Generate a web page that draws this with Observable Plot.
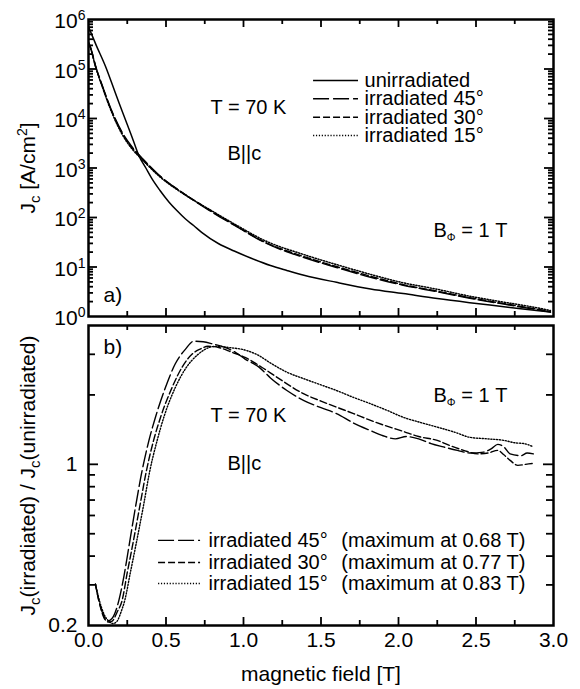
<!DOCTYPE html>
<html><head><meta charset="utf-8">
<script src="https://cdn.jsdelivr.net/npm/d3@7"></script>
<script src="https://cdn.jsdelivr.net/npm/@observablehq/plot@0.6"></script>
<style>
html,body{margin:0;padding:0;background:#fff;}
#chart{position:relative;width:580px;height:689px;background:#fff;}
#chart svg{position:absolute;left:0;overflow:visible;}
</style></head><body><div id="chart"></div>
<script>
// ---------- DATA ----------
// Panel a) : Jc [A/cm^2] vs magnetic field [T]
const fieldUnirr = [0, 0.05, 0.11, 0.15, 0.196, 0.25, 0.29, 0.325, 0.37, 0.41, 0.46, 0.52, 0.57, 0.626, 0.68, 0.73, 0.84, 0.94, 1.05, 1.174, 1.28, 1.39, 1.60, 1.82, 2.03, 2.25, 2.46, 2.68, 2.89, 2.98];
const jcUnirr = [7.1e5, 3.0e5, 1.12e5, 5.2e4, 2.1e4, 7600, 3500, 1780, 1000, 600, 355, 204, 138, 93, 68, 50, 29.5, 21, 15, 10.7, 8.5, 6.8, 4.9, 3.6, 2.9, 2.3, 1.9, 1.58, 1.32, 1.23];
const fieldIrrTop = [0, 0.013, 0.045, 0.088, 0.153, 0.217, 0.28, 0.346, 0.454, 0.626, 0.776, 0.948, 1.14, 1.39, 1.60, 1.82, 2.03, 2.25, 2.46, 2.68, 2.89, 2.98];
const jcIrr45 = [3.47e5, 2.75e5, 1.17e5, 4.68e4, 1.35e4, 5250, 2690, 1580, 724, 288, 141, 67.6, 30.9, 15.5, 9.8, 6.2, 4.3, 3.16, 2.34, 1.78, 1.38, 1.23];
const jcIrr30 = [3.39e5, 2.69e5, 1.15e5, 4.57e4, 1.32e4, 5010, 2570, 1550, 708, 288, 145, 69, 31.6, 16.2, 10.2, 6.5, 4.4, 3.24, 2.4, 1.82, 1.41, 1.26];
const jcIrr15 = [3.31e5, 2.63e5, 1.12e5, 4.47e4, 1.26e4, 4790, 2450, 1480, 692, 282, 148, 72, 33.9, 17.8, 11.2, 7.1, 4.8, 3.55, 2.57, 1.95, 1.51, 1.32];

// Panel b) : Jc(irradiated)/Jc(unirradiated)
const field45 = [0.045, 0.07, 0.10, 0.12, 0.15, 0.196, 0.23, 0.26, 0.303, 0.346, 0.39, 0.432, 0.497, 0.56, 0.626, 0.68, 0.74, 0.80, 0.884, 0.948, 1.01, 1.10, 1.174, 1.28, 1.39, 1.50, 1.60, 1.71, 1.82, 1.90, 1.98, 2.05, 2.13, 2.21, 2.29, 2.38, 2.46, 2.55, 2.60, 2.64, 2.68, 2.72, 2.79, 2.83, 2.87];
const ratio45 = [0.302, 0.251, 0.219, 0.209, 0.214, 0.257, 0.331, 0.437, 0.652, 0.94, 1.27, 1.60, 2.16, 2.73, 3.16, 3.42, 3.40, 3.33, 3.21, 3.06, 2.86, 2.64, 2.37, 2.09, 1.89, 1.76, 1.66, 1.51, 1.40, 1.33, 1.29, 1.32, 1.29, 1.23, 1.19, 1.15, 1.12, 1.13, 1.17, 1.22, 1.19, 1.11, 1.09, 1.12, 1.11];
const field30 = [0.045, 0.07, 0.10, 0.13, 0.153, 0.185, 0.217, 0.25, 0.282, 0.33, 0.374, 0.42, 0.465, 0.54, 0.604, 0.669, 0.72, 0.77, 0.84, 0.927, 1.01, 1.12, 1.21, 1.39, 1.50, 1.60, 1.71, 1.82, 1.93, 2.03, 2.13, 2.25, 2.34, 2.42, 2.51, 2.58, 2.64, 2.68, 2.72, 2.77, 2.82, 2.87];
const ratio30 = [0.302, 0.251, 0.216, 0.207, 0.209, 0.229, 0.257, 0.339, 0.437, 0.652, 0.94, 1.27, 1.60, 2.16, 2.64, 3.01, 3.16, 3.25, 3.21, 3.06, 2.91, 2.63, 2.40, 2.02, 1.88, 1.77, 1.66, 1.55, 1.46, 1.39, 1.32, 1.27, 1.20, 1.15, 1.11, 1.12, 1.15, 1.10, 1.04, 0.99, 1.00, 1.01];
const field15 = [0.045, 0.07, 0.10, 0.13, 0.16, 0.185, 0.21, 0.234, 0.27, 0.303, 0.353, 0.396, 0.443, 0.486, 0.561, 0.626, 0.71, 0.80, 0.83, 0.905, 1.01, 1.10, 1.174, 1.28, 1.39, 1.50, 1.60, 1.71, 1.82, 1.93, 2.03, 2.14, 2.25, 2.36, 2.46, 2.57, 2.68, 2.75, 2.81, 2.87];
const ratio15 = [0.302, 0.257, 0.224, 0.209, 0.204, 0.209, 0.229, 0.257, 0.339, 0.437, 0.652, 0.94, 1.27, 1.60, 2.16, 2.60, 3.01, 3.24, 3.25, 3.21, 3.13, 2.96, 2.75, 2.51, 2.35, 2.21, 2.09, 1.95, 1.83, 1.71, 1.60, 1.52, 1.45, 1.38, 1.31, 1.29, 1.27, 1.24, 1.23, 1.19];

// Ticks and labels
const xTickValues = [0, 0.5, 1, 1.5, 2, 2.5, 3];
const xTickLabels = ["0.0", "0.5", "1.0", "1.5", "2.0", "2.5", "3.0"];
const xMajor = [0.5, 1, 1.5, 2, 2.5];
const xMinor = [0.25, 0.75, 1.25, 1.75, 2.25, 2.75];
const topYTickValues = [1, 10, 100, 1e3, 1e4, 1e5, 1e6];
const topYTickLabels = ["10^0", "10^1", "10^2", "10^3", "10^4", "10^5", "10^6"];
const botYTickValues = [0.2, 1];
const botYTickLabels = ["0.2", "1"];
const botYMinor = [0.3, 0.4, 0.5, 0.6, 0.7, 0.8, 0.9, 2, 3];

const seriesNames = ["unirradiated", "irradiated 45°", "irradiated 30°", "irradiated 15°"];
const maxLabels = ["(maximum at 0.68 T)", "(maximum at 0.77 T)", "(maximum at 0.83 T)"];
const tempLabel = "T = 70 K";
const orientLabel = "B||c";
const matchLabel = "BΦ = 1 T";
const xLabel = "magnetic field [T]";
const yLabelTop = "Jc [A/cm2]";
const yLabelBot = "Jc(irradiated) / Jc(unirradiated)";

// ---------- build tables ----------
const zip = (xs, ys) => xs.map((b, i) => ({b, v: ys[i]}));
const topSeries = [zip(fieldUnirr, jcUnirr), zip(fieldIrrTop, jcIrr45), zip(fieldIrrTop, jcIrr30), zip(fieldIrrTop, jcIrr15)];
const botSeries = [zip(field45, ratio45), zip(field30, ratio30), zip(field15, ratio15)];
const dashes = [null, "16,4", "7,3", "1.2,1.7"];

// ---------- layout ----------
const W = 580, ML = 88, MR = 27;
const innerW = W - ML - MR;
const H1 = 320, MT1 = 19, MB1 = 4, inner1 = H1 - MT1 - MB1;
const H2 = 369, MT2 = 5, MB2 = 64, inner2 = H2 - MT2 - MB2;
const FONT = "'Liberation Sans', Arial, Helvetica, sans-serif";
const TW = 1.8;

function xTicks(inner) {
  return [
    Plot.tickX(xMajor, {x: d => d, insetTop: inner - 8, strokeWidth: TW}),
    Plot.tickX(xMajor, {x: d => d, insetBottom: inner - 8, strokeWidth: TW}),
    Plot.tickX(xMinor, {x: d => d, insetTop: inner - 5, strokeWidth: TW}),
    Plot.tickX(xMinor, {x: d => d, insetBottom: inner - 5, strokeWidth: TW})
  ];
}
function yTicks(vals, len) {
  return [
    Plot.tickY(vals, {y: d => d, insetRight: innerW - len, strokeWidth: TW}),
    Plot.tickY(vals, {y: d => d, insetLeft: innerW - len, strokeWidth: TW})
  ];
}
const note = (s, x, y, o = {}) => Plot.text([s], {x: () => x, y: () => y, text: d => d, textAnchor: "start", fontSize: 20, ...o});

// ---------- panel a ----------
const topMinor = [];
for (let e = 0; e < 6; e++) for (let k = 2; k <= 9; k++) topMinor.push(k * Math.pow(10, e));
const topLegendY = [58600, 25000, 10600, 4540];

const panelA = Plot.plot({
  width: W, height: H1, marginLeft: ML, marginRight: MR, marginTop: MT1, marginBottom: MB1,
  style: {fontFamily: FONT, fontSize: "20px", background: "transparent", overflow: "visible", color: "black"},
  x: {domain: [0, 3], axis: null},
  y: {type: "log", domain: [1, 1e6]},
  marks: [
    ...topSeries.map((s, i) => Plot.line(s, {x: "b", y: "v", stroke: "black", strokeWidth: 1.5, strokeDasharray: dashes[i], curve: "monotone-x", clip: true})),
    ...xTicks(inner1),
    ...yTicks([10, 100, 1e3, 1e4, 1e5], 9),
    ...yTicks(topMinor, 5),
    Plot.frame({stroke: "black", strokeWidth: 2.5}),
    Plot.axisY(topYTickValues, {tickSize: 0, tickPadding: 3, tickFormat: d => topYTickLabels[topYTickValues.indexOf(d)], fontSize: 21, label: null, dy: 2}),
    Plot.text([yLabelTop], {frameAnchor: "left", textAnchor: "middle", dx: -60, rotate: -90, text: d => d, fontSize: 21}),
    note(tempLabel, 0.787, 16700),
    note(orientLabel, 0.897, 1960),
    note(matchLabel, 2.226, 54.6),
    note("a)", 0.097, 2.66, {fontSize: 21}),
    ...seriesNames.map((n, i) => Plot.ruleY([n], {y: () => topLegendY[i], x1: () => 1.452, x2: () => 1.742, stroke: "black", strokeWidth: 1.5, strokeDasharray: dashes[i]})),
    Plot.text(seriesNames, {x: () => 1.781, y: (d, i) => topLegendY[i], text: d => d, textAnchor: "start", fontSize: 20})
  ]
});

// ---------- panel b ----------
const botLegendY = [0.468, 0.375, 0.304];
const panelB = Plot.plot({
  width: W, height: H2, marginLeft: ML, marginRight: MR, marginTop: MT2, marginBottom: MB2,
  style: {fontFamily: FONT, fontSize: "20px", background: "transparent", overflow: "visible", color: "black"},
  x: {domain: [0, 3]},
  y: {type: "log", domain: [0.2, 4]},
  marks: [
    ...botSeries.map((s, i) => Plot.line(s, {x: "b", y: "v", stroke: "black", strokeWidth: 1.4, strokeDasharray: dashes[i + 1], curve: "monotone-x", clip: true})),
    ...xTicks(inner2),
    ...yTicks([1], 10),
    ...yTicks(botYMinor, 7),
    Plot.frame({stroke: "black", strokeWidth: 2.5}),
    Plot.axisY(botYTickValues, {tickSize: 0, tickPadding: 11, tickFormat: d => botYTickLabels[botYTickValues.indexOf(d)], fontSize: 21, label: null}),
    Plot.axisX(xTickValues, {tickSize: 0, tickPadding: 7, tickFormat: d => xTickLabels[xTickValues.indexOf(d)], fontSize: 21, label: null}),
    Plot.text([xLabel], {frameAnchor: "bottom", lineAnchor: "middle", dy: 49, text: d => d, fontSize: 21}),
    Plot.text([yLabelBot], {frameAnchor: "left", textAnchor: "middle", dx: -60, rotate: -90, text: d => d, fontSize: 21}),
    note("b)", 0.097, 3.21, {fontSize: 21}),
    note(tempLabel, 0.787, 1.63),
    note(orientLabel, 0.897, 1.01),
    note(matchLabel, 2.226, 1.99),
    ...seriesNames.slice(1).map((n, i) => Plot.ruleY([n], {y: () => botLegendY[i], x1: () => 0.452, x2: () => 0.723, stroke: "black", strokeWidth: 1.4, strokeDasharray: dashes[i + 1]})),
    Plot.text(seriesNames.slice(1), {x: () => 0.774, y: (d, i) => botLegendY[i], text: d => d, textAnchor: "start", fontSize: 20}),
    Plot.text(maxLabels, {x: () => 2.819, y: (d, i) => botLegendY[i], text: d => d, textAnchor: "end", fontSize: 20})
  ]
});

const chart = document.getElementById("chart");
panelA.style.top = "0px";
panelB.style.top = H1 + "px";
chart.appendChild(panelA);
chart.appendChild(panelB);

// ---------- rich text (sub/superscripts) ----------
const rich = new Map([
  [yLabelTop, [["J", 0], ["c", 5, 15], [" [A/cm", 0], ["2", -8, 14], ["]", 0]]],
  [yLabelBot, [["J", 0], ["c", 5, 15], ["(irradiated) / J", 0], ["c", 5, 15], ["(unirradiated)", 0]]],
  [matchLabel, [["B", 0], ["Φ", 4, 11], [" = 1 T", 0]]]
]);
topYTickLabels.forEach(l => rich.set(l, [["10", 0], [l.split("^")[1], -8, 14]]));

for (const svg of [panelA, panelB]) {
  d3.select(svg).selectAll("text").each(function () {
    const parts = rich.get(this.textContent);
    if (!parts) return;
    const sel = d3.select(this);
    sel.text(null);
    let cur = 0;
    for (const [s, shift, size] of parts) {
      const ts = sel.append("tspan").text(s);
      if (shift !== cur) { ts.attr("dy", shift - cur); cur = shift; }
      if (size) ts.attr("font-size", size);
    }
  });
}
</script></body></html>
